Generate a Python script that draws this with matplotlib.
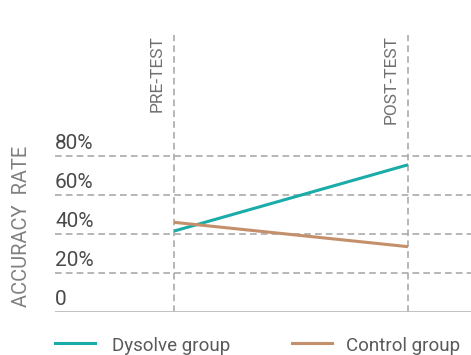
import matplotlib
matplotlib.use("Agg")
import matplotlib.pyplot as plt

# data
phases = ["PRE-TEST", "POST-TEST"]
dysolve = [41.5, 75.5]
control = [46, 33.5]
yticks = [0, 20, 40, 60, 80]
ytick_labels = ["0", "20%", "40%", "60%", "80%"]

plt.rcParams['font.family'] = ['Roboto', 'DejaVu Sans']

fig = plt.figure(figsize=(4.71, 3.55), dpi=100)
ax = fig.add_axes([55/471, 1-312/355, 1-55/471, (312-35)/355])

x = [0, 1]
ax.plot(x, dysolve, color="#1aaca8", lw=2.2, solid_capstyle="butt", zorder=3)
ax.plot(x, control, color="#c4906c", lw=2.2, solid_capstyle="butt", zorder=3)

ax.set_xlim((55-174)/234, (471-174)/234)
ax.set_ylim(0, (312-35)/1.95)

# horizontal dashed gridlines
for v in yticks[1:]:
    ax.axhline(v, color="#aaaaaa", lw=1.2, ls=(0, (4, 2.5)), zorder=1)
ax.axhline(0, color="#bbbbbb", lw=2, zorder=2)

# vertical dashed lines + labels
for i, name in enumerate(phases):
    ax.axvline(i, color="#aaaaaa", lw=1.2, ls=(0, (4, 2.5)), zorder=1)
    ax.text(i - 0.04, ax.get_ylim()[1], name, rotation=90, ha="right", va="top",
            fontsize=12.5, color="#707070")

# tick labels above gridlines
for v, lab in zip(yticks, ytick_labels):
    ax.text((55-174)/234, v + 1.5, lab, ha="left", va="bottom",
            fontsize=15, color="#4a4a4a")

for s in ax.spines.values():
    s.set_visible(False)
ax.set_xticks([])
ax.set_yticks([])

fig.text(22/471, 1-226/355, "ACCURACY  RATE", rotation=90, ha="center", va="center",
         fontsize=14.5, color="#808080")

# legend
fig.add_artist(plt.Line2D([55/471, 95/471], [1-343/355]*2, color="#1aaca8", lw=2.2))
fig.text(112/471, 1-346/355, "Dysolve group", ha="left", va="center", fontsize=13.5,
         color="#5a5a5a")
fig.add_artist(plt.Line2D([292/471, 332/471], [1-343/355]*2, color="#c4906c", lw=2.2))
fig.text(346/471, 1-346/355, "Control group", ha="left", va="center", fontsize=13.5,
         color="#5a5a5a")

fig.savefig("out.png", dpi=100)
